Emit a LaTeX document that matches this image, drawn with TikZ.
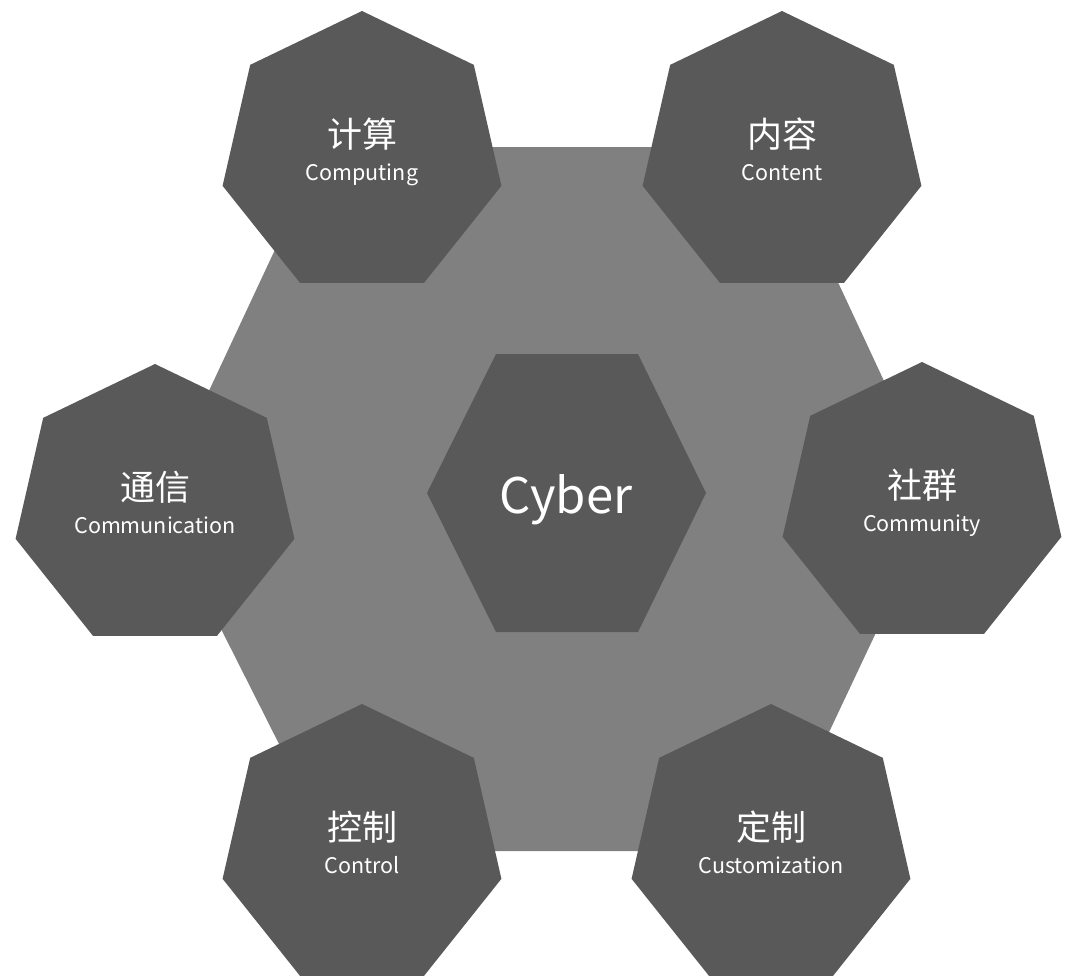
\documentclass[tikz,border=0pt]{standalone}
\usepackage{fontspec}
\setmainfont{Noto Sans CJK SC}
\usetikzlibrary{calc,positioning,shapes.geometric}
\definecolor{hexgray}{HTML}{808080}
\definecolor{cellgray}{HTML}{595959}

\begin{document}
\begin{tikzpicture}[x=1pt, y=-1pt,
  hepta/.style={regular polygon, regular polygon sides=7, minimum size=286pt, inner sep=0pt, fill=cellgray, draw=none},
  zhlab/.style={anchor=base, text=white, inner sep=0pt, font=\fontsize{35}{35}\selectfont},
  enlab/.style={anchor=base, text=white, inner sep=0pt, font=\fontsize{21.5}{21.5}\selectfont}]
\useasboundingbox (0,0) rectangle (1080,980);

% big hexagon behind everything
\fill[hexgray] (323,147) -- (775,147) -- (939,499) -- (773,851) -- (333,851) -- (157,502) -- cycle;

% centre
\fill[cellgray] (496,354) -- (638,354) -- (706,493) -- (638,632) -- (496,632) -- (427,493) -- cycle;
\node[anchor=base, text=white, inner sep=0pt, font=\fontsize{49}{49}\selectfont] (cyber) at (566,513) {Cyber};

% the six cells
\node[hepta] (comp) at (362,154) {};
\node[zhlab] (comp-zh) at ($(comp)+(0,-7)$) {计算};
\node[enlab] (comp-en) at ($(comp)+(0,26)$) {Computing};

\node[hepta] (cont) at (782,154) {};
\node[zhlab] (cont-zh) at ($(cont)+(0,-7)$) {内容};
\node[enlab] (cont-en) at ($(cont)+(0,26)$) {Content};

\node[hepta] (comm) at (155,507) {};
\node[zhlab] (comm-zh) at ($(comm)+(0,-7)$) {通信};
\node[enlab] (comm-en) at ($(comm)+(0,26)$) {Communication};

\node[hepta] (cmty) at (922,505) {};
\node[zhlab] (cmty-zh) at ($(cmty)+(0,-7)$) {社群};
\node[enlab] (cmty-en) at ($(cmty)+(0,26)$) {Community};

\node[hepta] (ctrl) at (362,847) {};
\node[zhlab] (ctrl-zh) at ($(ctrl)+(0,-7)$) {控制};
\node[enlab] (ctrl-en) at ($(ctrl)+(0,26)$) {Control};

\node[hepta] (cust) at (771,847) {};
\node[zhlab] (cust-zh) at ($(cust)+(0,-7)$) {定制};
\node[enlab] (cust-en) at ($(cust)+(0,26)$) {Customization};
\end{tikzpicture}
\end{document}
